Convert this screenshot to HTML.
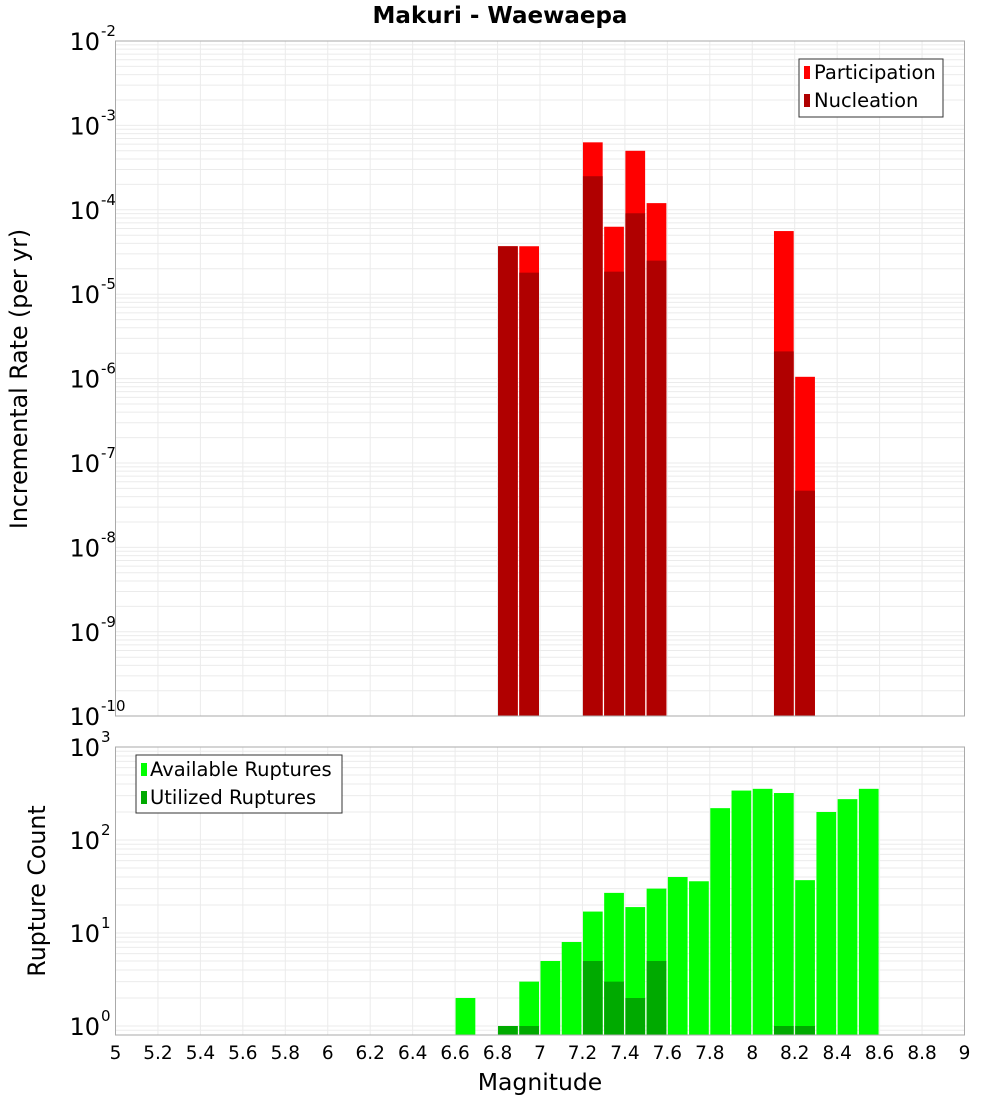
<!DOCTYPE html>
<html><head><meta charset="utf-8"><style>
body{margin:0;background:#fff;font-family:"DejaVu Sans","Liberation Sans",sans-serif;}
</style></head><body>
<svg width="1000" height="1100" xmlns="http://www.w3.org/2000/svg" style="font-family:'DejaVu Sans','Liberation Sans',sans-serif">
<text x="500" y="23" text-anchor="middle" font-size="23" font-weight="bold">Makuri - Waewaepa</text>
<g id="top"></g><g id="bot"></g>
<text transform="translate(27,379) rotate(-90)" text-anchor="middle" font-size="23.7">Incremental Rate (per yr)</text>
<text transform="translate(45,891) rotate(-90)" text-anchor="middle" font-size="23.7">Rupture Count</text>
<text x="540" y="1090" text-anchor="middle" font-size="23.5">Magnitude</text>
<g>
<rect x="799" y="59" width="144" height="58" fill="#fff" stroke="#333"/>
<rect x="804" y="66" width="6" height="13" fill="#f00"/><text x="814" y="79" font-size="19.5">Participation</text>
<rect x="804" y="94" width="6" height="13" fill="#b00000"/><text x="814" y="107" font-size="19.5">Nucleation</text>
</g>
<g>
<rect x="136" y="755" width="206" height="58" fill="#fff" stroke="#333"/>
<rect x="141" y="763" width="6" height="13" fill="#0f0"/><text x="150" y="776" font-size="19.5">Available Ruptures</text>
<rect x="141" y="791" width="6" height="13" fill="#00aa00"/><text x="150" y="804" font-size="19.5">Utilized Ruptures</text>
</g>
</svg>
<script>
const topBins=[6.85,6.95,7.25,7.35,7.45,7.55,8.15,8.25];
const participation=[3.7e-5,3.7e-5,6.3e-4,6.3e-5,5e-4,1.2e-4,5.6e-5,1.05e-6];
const nucleation=[3.7e-5,1.8e-5,2.5e-4,1.85e-5,9.1e-5,2.5e-5,2.1e-6,4.7e-8];
const botBins=[6.65,6.85,6.95,7.05,7.15,7.25,7.35,7.45,7.55,7.65,7.75,7.85,7.95,8.05,8.15,8.25,8.35,8.45,8.55];
const available=[2,1,3,5,8,17,27,19,30,40,36,220,340,355,320,37,200,275,355];
const utilized=[0,1,1,0,0,5,3,2,5,0,0,0,0,0,1,1,0,0,0];
const xTicks=[5,5.2,5.4,5.6,5.8,6,6.2,6.4,6.6,6.8,7,7.2,7.4,7.6,7.8,8,8.2,8.4,8.6,8.8,9];
const topDecades=[-10,-9,-8,-7,-6,-5,-4,-3,-2];
const botDecades=[0,1,2,3];
const NS="http://www.w3.org/2000/svg";
const X0=115.5,X1=964.5;
const xs=m=>X0+(m-5)/4*(X1-X0);
const ty=v=>41+(-2-Math.log10(v))*84.4;
const by=v=>1026-Math.log10(v)*93;
function mk(p,t,a){const e=document.createElementNS(NS,t);for(const k in a)e.setAttribute(k,a[k]);p.appendChild(e);return e;}
function panel(g,yTop,yBot,yf,decs,lo,hi,nm){
  mk(g,'rect',{x:X0,y:yTop,width:X1-X0,height:yBot-yTop,fill:'#fff'});
  for(let d=lo;d<hi;d++)for(let k=1;k<10;k++){const y=yf(k*Math.pow(10,d));if(y>=yTop&&y<=yBot){const l=mk(g,'line',{x1:X0,x2:X1,y1:y,y2:y,stroke:'#ebebeb','stroke-width':1});}}
  xTicks.forEach(t=>{const l=mk(g,'line',{x1:xs(t),x2:xs(t),y1:yTop,y2:yBot,stroke:'#ebebeb'});});
  decs.forEach(d=>{const y=yf(Math.pow(10,d));const t=mk(g,'text',{x:100,y:y+9,'text-anchor':'end','font-size':24});t.textContent='10';const s=mk(g,'text',{x:101,y:y-5,'font-size':15});s.textContent=String(d);});
}
const gt=document.getElementById('top'),gb=document.getElementById('bot');
panel(gt,41,716,ty,topDecades,-10,-2,'y-top');
panel(gb,747,1035,by,botDecades,-1,3,'y-bottom');
const w=(X1-X0)/40;
topBins.forEach((m,i)=>{
  const x=xs(m)-w/2+0.5;
  let r=mk(gt,'rect',{x:x,y:ty(participation[i]),width:w-1.5,height:716-ty(participation[i]),fill:'#f00'});
  
  r=mk(gt,'rect',{x:x,y:ty(nucleation[i]),width:w-1.5,height:716-ty(nucleation[i]),fill:'#b00000'});
  
});
botBins.forEach((m,i)=>{
  const x=xs(m)-w/2+0.5;
  let r=mk(gb,'rect',{x:x,y:by(available[i]),width:w-1.5,height:1035-by(available[i]),fill:'#0f0'});
  
  if(utilized[i]>0){r=mk(gb,'rect',{x:x,y:by(utilized[i]),width:w-1.5,height:1035-by(utilized[i]),fill:'#00aa00'});
  }
});
mk(gt,'rect',{x:X0,y:41,width:X1-X0,height:675,fill:'none',stroke:'#aaa'});
mk(gb,'rect',{x:X0,y:747,width:X1-X0,height:288,fill:'none',stroke:'#aaa'});
xTicks.forEach(t=>{const e=mk(gb,'text',{x:xs(t),y:1059,'text-anchor':'middle','font-size':18.5});e.textContent=String(t);});
</script>
</body></html>
